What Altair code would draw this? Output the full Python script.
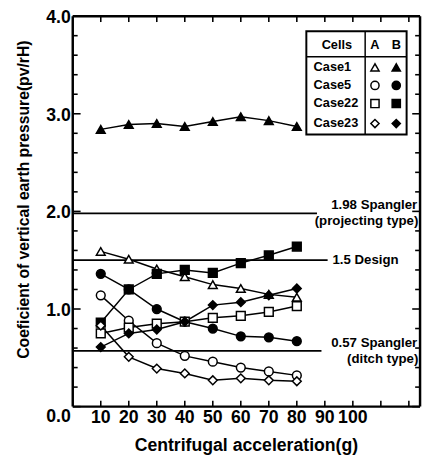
import altair as alt
import pandas as pd

# ---------------- data ----------------
accel = [10, 20, 30, 40, 50, 60, 70, 80]
case_names = ["Case1", "Case5", "Case22", "Case23"]
cells = ["A", "B"]

case1_a = [1.59, 1.51, 1.41, 1.33, 1.25, 1.21, 1.15, 1.12]
case1_b = [2.84, 2.89, 2.90, 2.87, 2.92, 2.97, 2.93, 2.87]
case5_a = [1.14, 0.88, 0.65, 0.52, 0.46, 0.40, 0.36, 0.32]
case5_b = [1.36, 1.20, 1.00, 0.87, 0.80, 0.72, 0.71, 0.67]
case22_a = [0.75, 0.81, 0.85, 0.87, 0.91, 0.93, 0.97, 1.03]
case22_b = [0.86, 1.20, 1.36, 1.40, 1.37, 1.47, 1.55, 1.64]
case23_a = [0.83, 0.51, 0.39, 0.34, 0.27, 0.29, 0.27, 0.26]
case23_b = [0.61, 0.75, 0.79, 0.87, 1.04, 1.07, 1.14, 1.21]

ref_values = [1.98, 1.5, 0.57]
ref_top_labels = ["1.98  Spangler", "1.5  Design", "0.57  Spangler"]
ref_sub_labels = ["(projecting type)", "", "(ditch type)"]

x_tick_values = [10, 20, 30, 40, 50, 60, 70, 80, 90, 100, 110, 120]
x_label_values = [10, 20, 30, 40, 50, 60, 70, 80, 90, 100]
y_major_values = [0.0, 1.0, 2.0, 3.0, 4.0]
y_minor_values = [round(i * 0.2, 1) for i in range(21) if i % 5 != 0]
x_title = "Centrifugal acceleration(g)"
y_title = "Coeficient of vertical earth pressure(pv/rH)"

series_values = {
    ("Case1", "A"): case1_a, ("Case1", "B"): case1_b,
    ("Case5", "A"): case5_a, ("Case5", "B"): case5_b,
    ("Case22", "A"): case22_a, ("Case22", "B"): case22_b,
    ("Case23", "A"): case23_a, ("Case23", "B"): case23_b,
}

rows = []
for (case, cell), vals in series_values.items():
    for xv, yv in zip(accel, vals):
        rows.append({"series": f"{case} {cell}", "case": case, "cell": cell, "x": xv, "y": yv})
df = pd.DataFrame(rows)

# ---------------- styling constants ----------------
FONT = "Liberation Sans"
XMAX = 124
YMAX = 4
x_scale = alt.Scale(domain=[0, XMAX], nice=False, zero=False)
y_scale = alt.Scale(domain=[0, YMAX], nice=False)
shape_scale = alt.Scale(domain=case_names, range=["triangle-up", "circle", "square", "diamond"])
fill_scale = alt.Scale(domain=cells, range=["white", "black"])

def X(field):
    return alt.X(field, type="quantitative", scale=x_scale, axis=None)

def Y(field):
    return alt.Y(field, type="quantitative", scale=y_scale, axis=None)

def XD(v):
    return alt.XDatum(v, type="quantitative", scale=x_scale, axis=None)

def YD(v):
    return alt.YDatum(v, type="quantitative", scale=y_scale, axis=None)

# ---------------- frame and inward ticks (rules) ----------------
edge_df = pd.DataFrame({"edge": [0]})
frame_left = alt.Chart(edge_df).mark_rule(color="black", strokeWidth=2.5).encode(
    x=XD(0), y=YD(0), y2=alt.Y2Datum(YMAX))
frame_right = alt.Chart(edge_df).mark_rule(color="black", strokeWidth=2.5).encode(
    x=XD(XMAX), y=YD(0), y2=alt.Y2Datum(YMAX))
frame_bottom = alt.Chart(edge_df).mark_rule(color="black", strokeWidth=2.5).encode(
    y=YD(0), x=XD(0), x2=alt.X2Datum(XMAX))
frame_top = alt.Chart(edge_df).mark_rule(color="black", strokeWidth=2.5).encode(
    y=YD(YMAX), x=XD(0), x2=alt.X2Datum(XMAX))

def xticks(ypos, off, name):
    d = pd.DataFrame({name: x_tick_values})
    return alt.Chart(d).mark_rule(color="black", strokeWidth=1.6, y2Offset=off).encode(
        x=X(name), y=YD(ypos), y2=alt.Y2Datum(ypos))

def yticks(values, xpos, off, name):
    d = pd.DataFrame({name: values})
    return alt.Chart(d).mark_rule(color="black", strokeWidth=1.6, x2Offset=off).encode(
        y=Y(name), x=XD(xpos), x2=alt.X2Datum(xpos))

tick_layers = [
    xticks(0, -6, "tb"), xticks(YMAX, 6, "tt"),
    yticks(y_minor_values, 0, 5, "tlm"), yticks(y_major_values, 0, 8, "tlM"),
    yticks(y_minor_values, XMAX, -5, "trm"), yticks(y_major_values, XMAX, -8, "trM"),
]

# ---------------- data layers ----------------
lines = alt.Chart(df).mark_line(color="black", strokeWidth=1.5).encode(
    x=X("x"), y=Y("y"), detail="series:N",
)

points = alt.Chart(df).mark_point(filled=True, stroke="black", strokeWidth=1.5,
                                  size=80, opacity=1).encode(
    x=X("x"), y=Y("y"),
    shape=alt.Shape("case:N", scale=shape_scale, legend=None),
    fill=alt.Fill("cell:N", scale=fill_scale, legend=None),
)

ref_df = pd.DataFrame({
    "value": ref_values,
    "x0": [0, 0, 0],
    "x1": [87.2, 91.0, 88.8],
    "top": ref_top_labels,
    "sub": ref_sub_labels,
})

ref_rules = alt.Chart(ref_df).mark_rule(color="black", strokeWidth=1.8).encode(
    x=X("x0"), x2="x1", y=Y("value"),
)

spangler_df = ref_df[ref_df["sub"] != ""].reset_index(drop=True)
spangler_top = alt.Chart(spangler_df).mark_text(
    align="right", baseline="bottom", dy=-1, font=FONT, fontWeight="bold", fontSize=13.5
).encode(x=XD(123.0), y=Y("value"), text="top:N")
spangler_sub = alt.Chart(spangler_df).mark_text(
    align="right", baseline="top", dy=1, font=FONT, fontWeight="bold", fontSize=13.5
).encode(x=XD(123.4), y=Y("value"), text="sub:N")
design_df = ref_df[ref_df["sub"] == ""].reset_index(drop=True)
design_text = alt.Chart(design_df).mark_text(
    align="left", baseline="middle", dx=2, font=FONT, fontWeight="bold", fontSize=13.5
).encode(x=XD(92.0), y=Y("value"), text="top:N")

# ---------------- tick labels and titles (text marks) ----------------
LABEL_STYLE = dict(font=FONT, fontWeight="bold", fontSize=18, color="black")

xlab_df = pd.DataFrame({"xl": x_label_values, "xlab": [str(v) for v in x_label_values]})
x_labels = alt.Chart(xlab_df).mark_text(
    baseline="middle", align="center", dy=12, **LABEL_STYLE).encode(
    x=X("xl"), y=YD(0), text="xlab:N")

ylab_df = pd.DataFrame({"yl": [v for v in y_major_values if v > 0],
                        "ylab": [f"{v:.1f}" for v in y_major_values if v > 0]})
y_labels = alt.Chart(ylab_df).mark_text(
    baseline="middle", align="right", dx=-2, dy=2, **LABEL_STYLE).encode(
    x=XD(0), y=Y("yl"), text="ylab:N")
yzero_df = pd.DataFrame({"yz": [y_major_values[0]], "yzlab": [f"{y_major_values[0]:.1f}"]})
y_zero_label = alt.Chart(yzero_df).mark_text(
    baseline="middle", align="right", dx=-2, dy=11, **LABEL_STYLE).encode(
    x=XD(0), y=Y("yz"), text="yzlab:N")

xt_df = pd.DataFrame({"xtt": [x_title]})
x_title_mark = alt.Chart(xt_df).mark_text(
    baseline="middle", align="center", dy=40, **LABEL_STYLE).encode(
    x=XD(XMAX / 2), y=YD(0), text="xtt:N")
yt_df = pd.DataFrame({"ytt": [y_title]})
y_title_mark = alt.Chart(yt_df).mark_text(
    baseline="middle", align="center", angle=270,
    font=FONT, fontWeight="bold", fontSize=16, color="black").encode(
    x=XD(-17.2), y=YD(2.12), text="ytt:N")

# ---------------- legend table ----------------
LX0, LX1, LXD = 83.4, 119.2, 104.4
LY0, LY1, LYH = 2.788, 3.846, 3.584
HEAD_Y = 3.70
COL_CASE, COL_A, COL_B = 86.0, 107.9, 115.5
row_y = [3.475, 3.29, 3.105, 2.90]

box = alt.Chart(pd.DataFrame({"bx": [0]})).mark_rect(
    fill="white", stroke="black", strokeWidth=2).encode(
    x=XD(LX0), x2=alt.X2Datum(LX1), y=YD(LY0), y2=alt.Y2Datum(LY1))
hline = alt.Chart(pd.DataFrame({"hl": [0]})).mark_rule(color="black", strokeWidth=1.5).encode(
    x=XD(LX0), x2=alt.X2Datum(LX1), y=YD(LYH))
vline = alt.Chart(pd.DataFrame({"vl": [0]})).mark_rule(color="black", strokeWidth=1.5).encode(
    x=XD(LXD), y=YD(LY0), y2=alt.Y2Datum(LY1))

head_df = pd.DataFrame({"t": ["Cells"] + cells, "hx": [94.3, COL_A, COL_B]})
head = alt.Chart(head_df).mark_text(font=FONT, fontWeight="bold", fontSize=13,
                                    baseline="middle").encode(
    x=X("hx"), y=YD(HEAD_Y), text="t:N")

leg_rows = pd.DataFrame({"case": case_names, "ry": row_y})
leg_names = alt.Chart(leg_rows).mark_text(font=FONT, fontWeight="bold", fontSize=13,
                                          align="left", baseline="middle").encode(
    x=XD(COL_CASE), y=Y("ry"), text="case:N")

leg_sym_rows = []
for c, ry in zip(case_names, row_y):
    for cell, cx in zip(cells, [COL_A, COL_B]):
        leg_sym_rows.append({"case": c, "cell": cell, "lx": cx, "ly": ry})
leg_syms = alt.Chart(pd.DataFrame(leg_sym_rows)).mark_point(
    filled=True, stroke="black", strokeWidth=1.5, size=70, opacity=1).encode(
    x=X("lx"), y=Y("ly"),
    shape=alt.Shape("case:N", scale=shape_scale, legend=None),
    fill=alt.Fill("cell:N", scale=fill_scale, legend=None),
)

chart = alt.layer(
    frame_left, frame_right, frame_bottom, frame_top, *tick_layers,
    lines, ref_rules, points, spangler_top, spangler_sub, design_text,
    box, hline, vline, head, leg_names, leg_syms,
    x_labels, y_labels, y_zero_label, x_title_mark, y_title_mark,
).properties(
    width=354, height=398,
    background="white",
    autosize=alt.AutoSizeParams(type="none"),
    padding={"left": 66, "top": 4, "right": 3, "bottom": 45},
).configure_view(stroke=None)

chart.save("out.html", embed_options={"renderer": "svg", "actions": False})
